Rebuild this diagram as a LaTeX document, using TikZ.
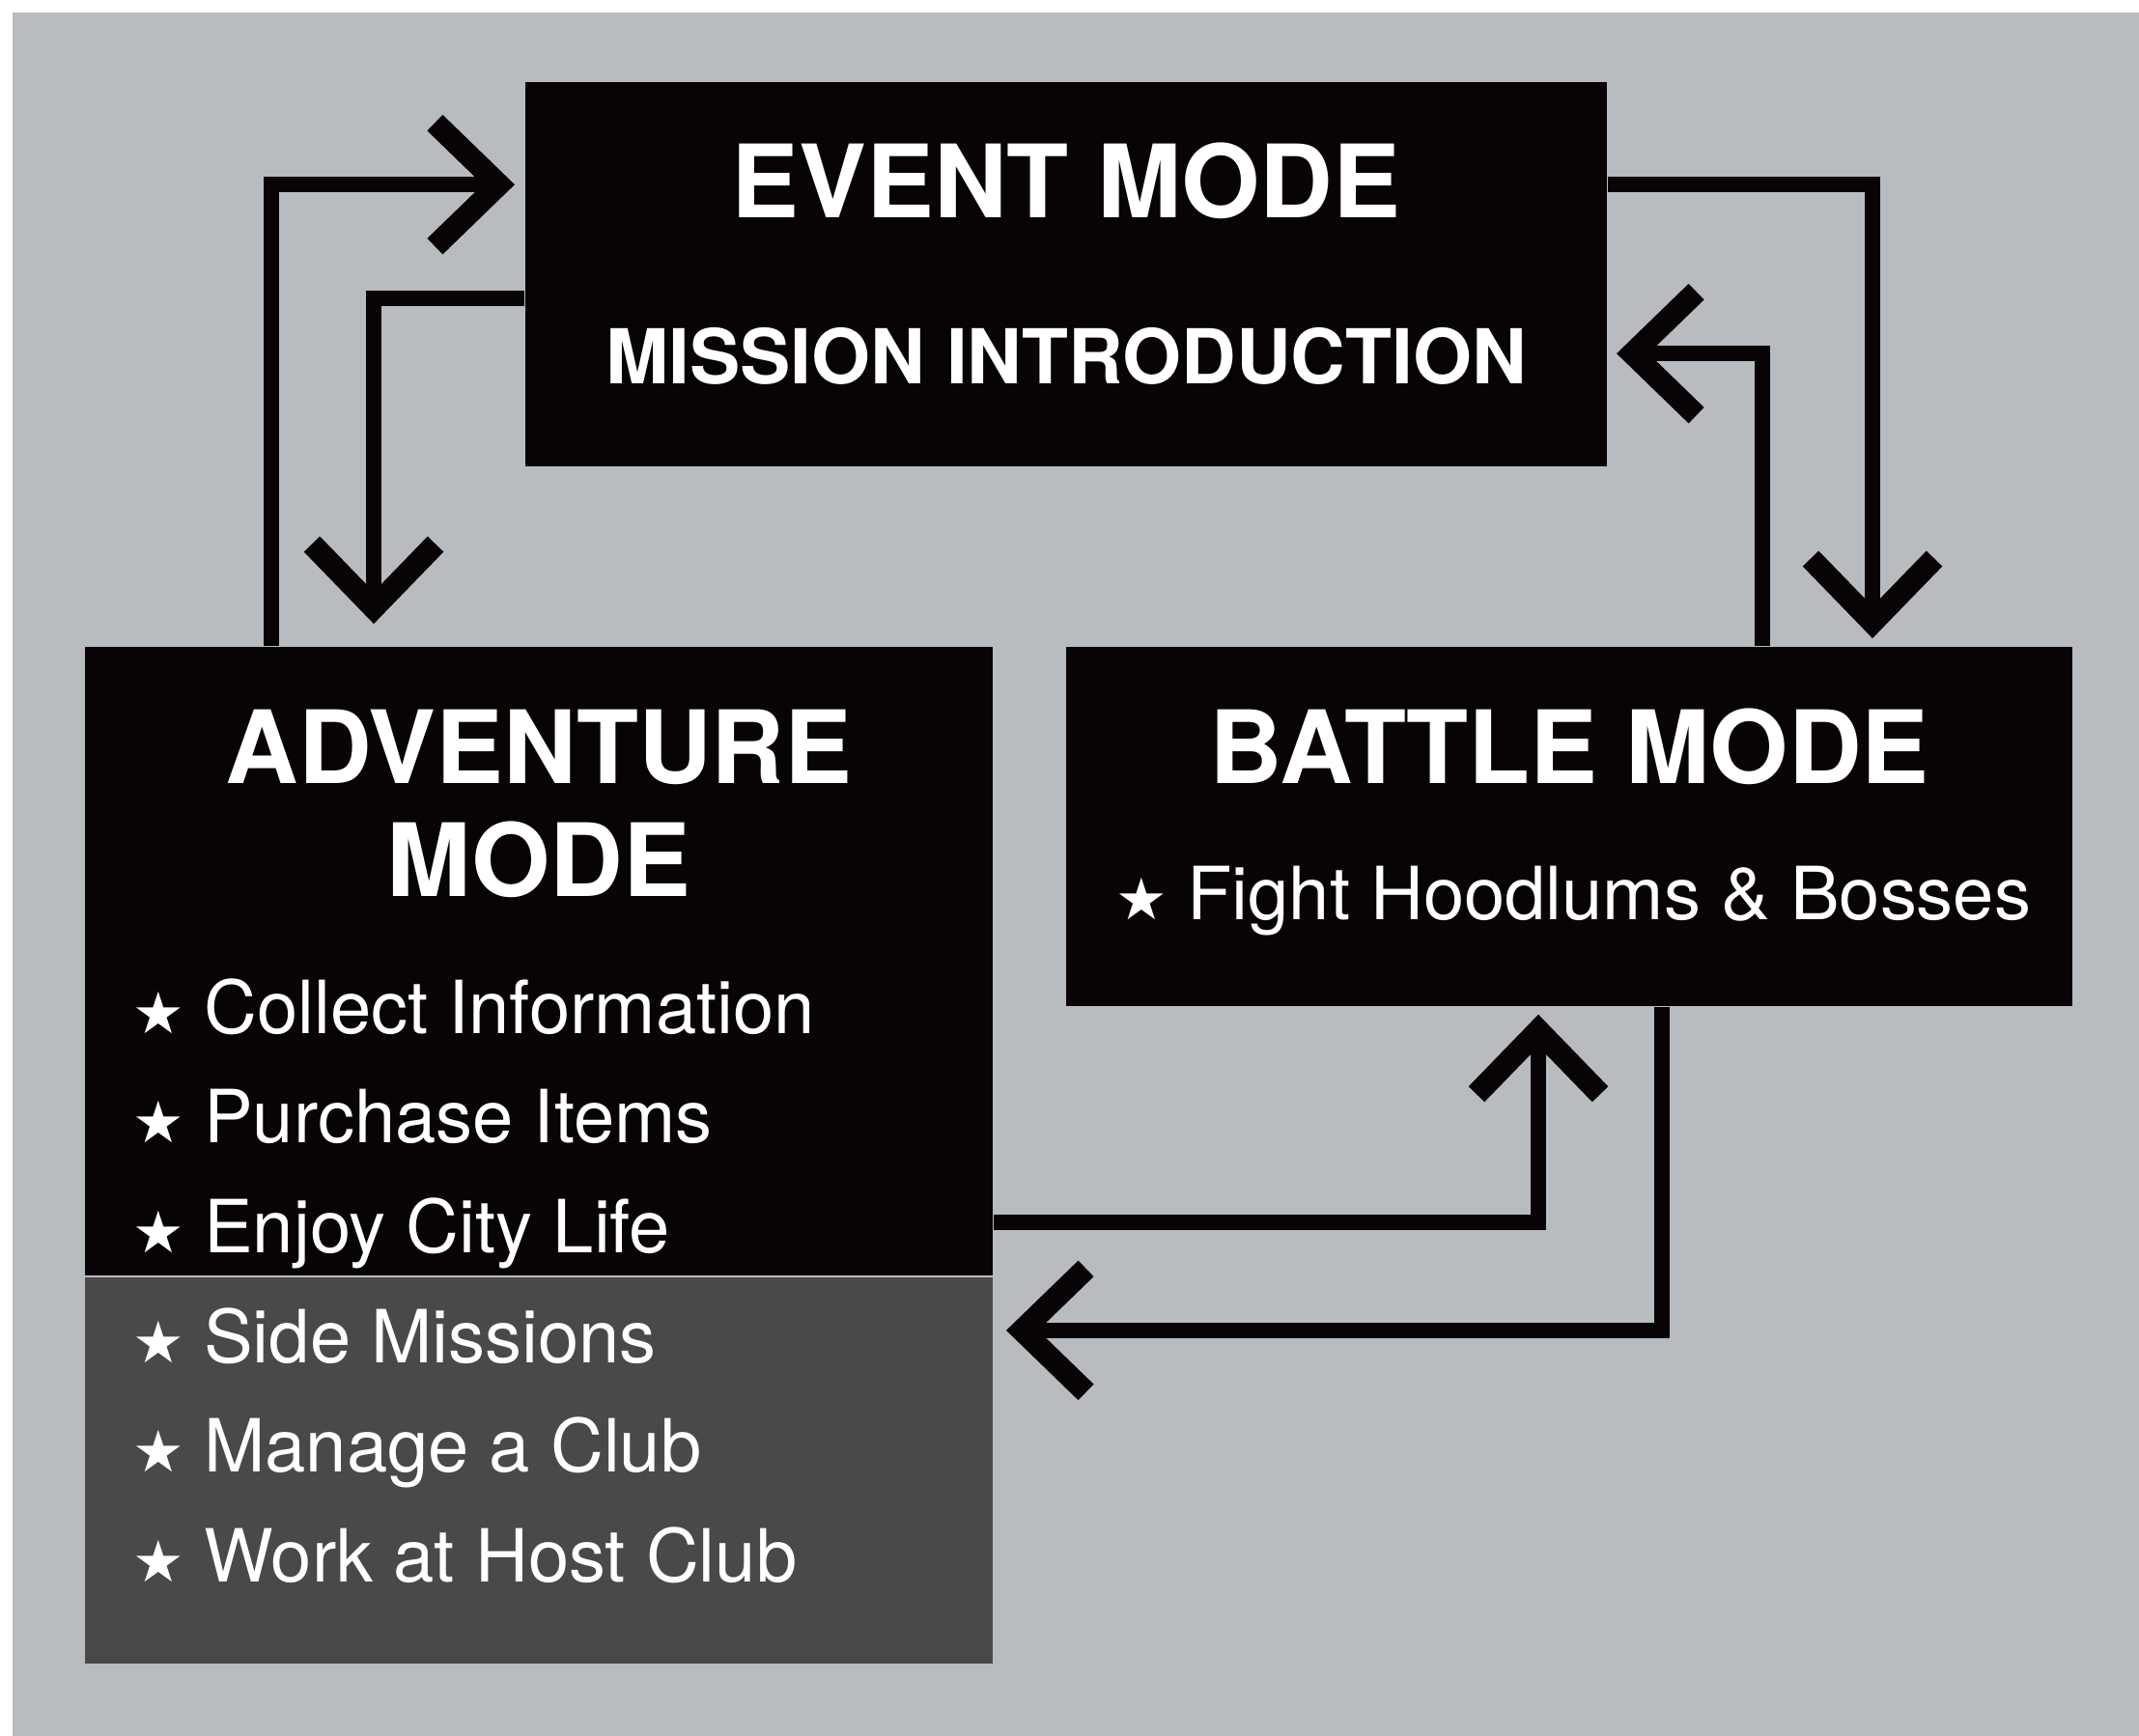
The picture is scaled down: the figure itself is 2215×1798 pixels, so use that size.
\documentclass[tikz,border=0pt]{standalone}
\usepackage{fontspec}
\setmainfont{TeX Gyre Heros}
\newfontfamily\starfont{DejaVu Sans}
\usepackage{tikz}
\usetikzlibrary{arrows.meta, positioning, calc}
\usepackage{xcolor}
\definecolor{paper}{RGB}{184,187,192}
\definecolor{boxblack}{RGB}{8,4,5}
\definecolor{boxgrey}{RGB}{74,72,73}
\newcommand{\modestar}{{\starfont\fontsize{17}{17}\selectfont\raisebox{0pt}{★}}\hspace{0.2cm}}
\tikzset{
  modebox/.style={
    rectangle, fill=boxblack, draw=none, inner sep=0pt
  },
  extrabox/.style={
    rectangle, fill=boxgrey, draw=none, inner sep=0pt
  },
  modetitle/.style={
    text=white, inner sep=0pt,
    font=\fontsize{29.8}{34}\selectfont\bfseries
  },
  modesub/.style={
    text=white, inner sep=0pt,
    font=\fontsize{22.3}{26}\selectfont\bfseries
  },
  modeitem/.style={
    text=white, inner sep=0pt, anchor=base west,
    font=\fontsize{21.6}{26}\selectfont
  },
  flow/.style={
    -{Straight Barb[length=0.66cm, width=1.28cm, line width=0.23cm]},
    line width=0.16cm, draw=boxblack
  }
}

\begin{document}
\begin{tikzpicture}[x=0.01cm, y=-0.01cm]
  \useasboundingbox (0,0) rectangle (2215,1798);
  \fill[white] (0,0) rectangle (2215,1798);
  \fill[paper] (13,13) rectangle (2215,1798);

  % the three modes
  \node[modebox, minimum width=11.2cm, minimum height=3.98cm] (event) at (1104,284) {};
  \node[modebox, minimum width=9.4cm, minimum height=6.51cm] (adventure) at (558,995.5) {};
  \node[extrabox, minimum width=9.4cm, minimum height=4cm, below=0cm of adventure] (advextra) {};
  \node[modebox, minimum width=10.42cm, minimum height=3.72cm, right=0.74cm of adventure.north east, anchor=north west] (battle) {};

  % event mode text
  \node[modetitle, anchor=base] (eventname) at ($(event.north)+(0,141)$) {EVENT MODE};
  \node[modesub, below=1.72cm of eventname.base, anchor=base] (eventsub) {MISSION INTRODUCTION};

  % adventure mode text
  \node[modetitle, anchor=base] (advname) at ($(adventure.north)+(0,142)$) {ADVENTURE};
  \node[modetitle, below=1.17cm of advname.base, anchor=base] (advname2) {MODE};
  \node[modeitem] (collect) at ($(adventure.north west)+(50,401)$) {\modestar Collect Information};
  \node[modeitem, below=1.135cm of collect.base west, anchor=base west] (purchase) {\modestar Purchase Items};
  \node[modeitem, below=1.135cm of purchase.base west, anchor=base west] (enjoy) {\modestar Enjoy City Life};
  \node[modeitem, below=1.14cm of enjoy.base west, anchor=base west] (side) {\modestar Side Missions};
  \node[modeitem, below=1.135cm of side.base west, anchor=base west] (manage) {\modestar Manage a Club};
  \node[modeitem, below=1.135cm of manage.base west, anchor=base west] (work) {\modestar Work at Host Club};

  % battle mode text
  \node[modetitle, anchor=base] (battlename) at ($(battle.north)+(0,142)$) {BATTLE MODE};
  \node[modeitem] (fight) at ($(battle.north west)+(52,283)$) {\modestar Fight Hoodlums \& Bosses};

  % transitions
  \draw[flow, shorten >=0.1cm] ($(adventure.north west)+(194,0)$) |- ($(event.north west)+(0,107)$);
  \draw[flow, shorten >=0.23cm] ($(event.north west)+(0,225)$) -| ($(adventure.north west)+(300,0)$);
  \draw[flow, shorten >=0.08cm] ($(event.north east)+(0,107)$) -| ($(battle.north west)+(836,0)$);
  \draw[flow, shorten >=0.09cm] ($(battle.north west)+(722,0)$) |- ($(event.north east)+(0,282)$);
  \draw[flow, shorten >=0.08cm] ($(adventure.south east)+(0,-56)$) -| ($(battle.south west)+(490,0)$);
  \draw[flow, shorten >=0.13cm] ($(battle.south west)+(618,0)$) |- ($(advextra.north east)+(0,56)$);
\end{tikzpicture}
\end{document}
